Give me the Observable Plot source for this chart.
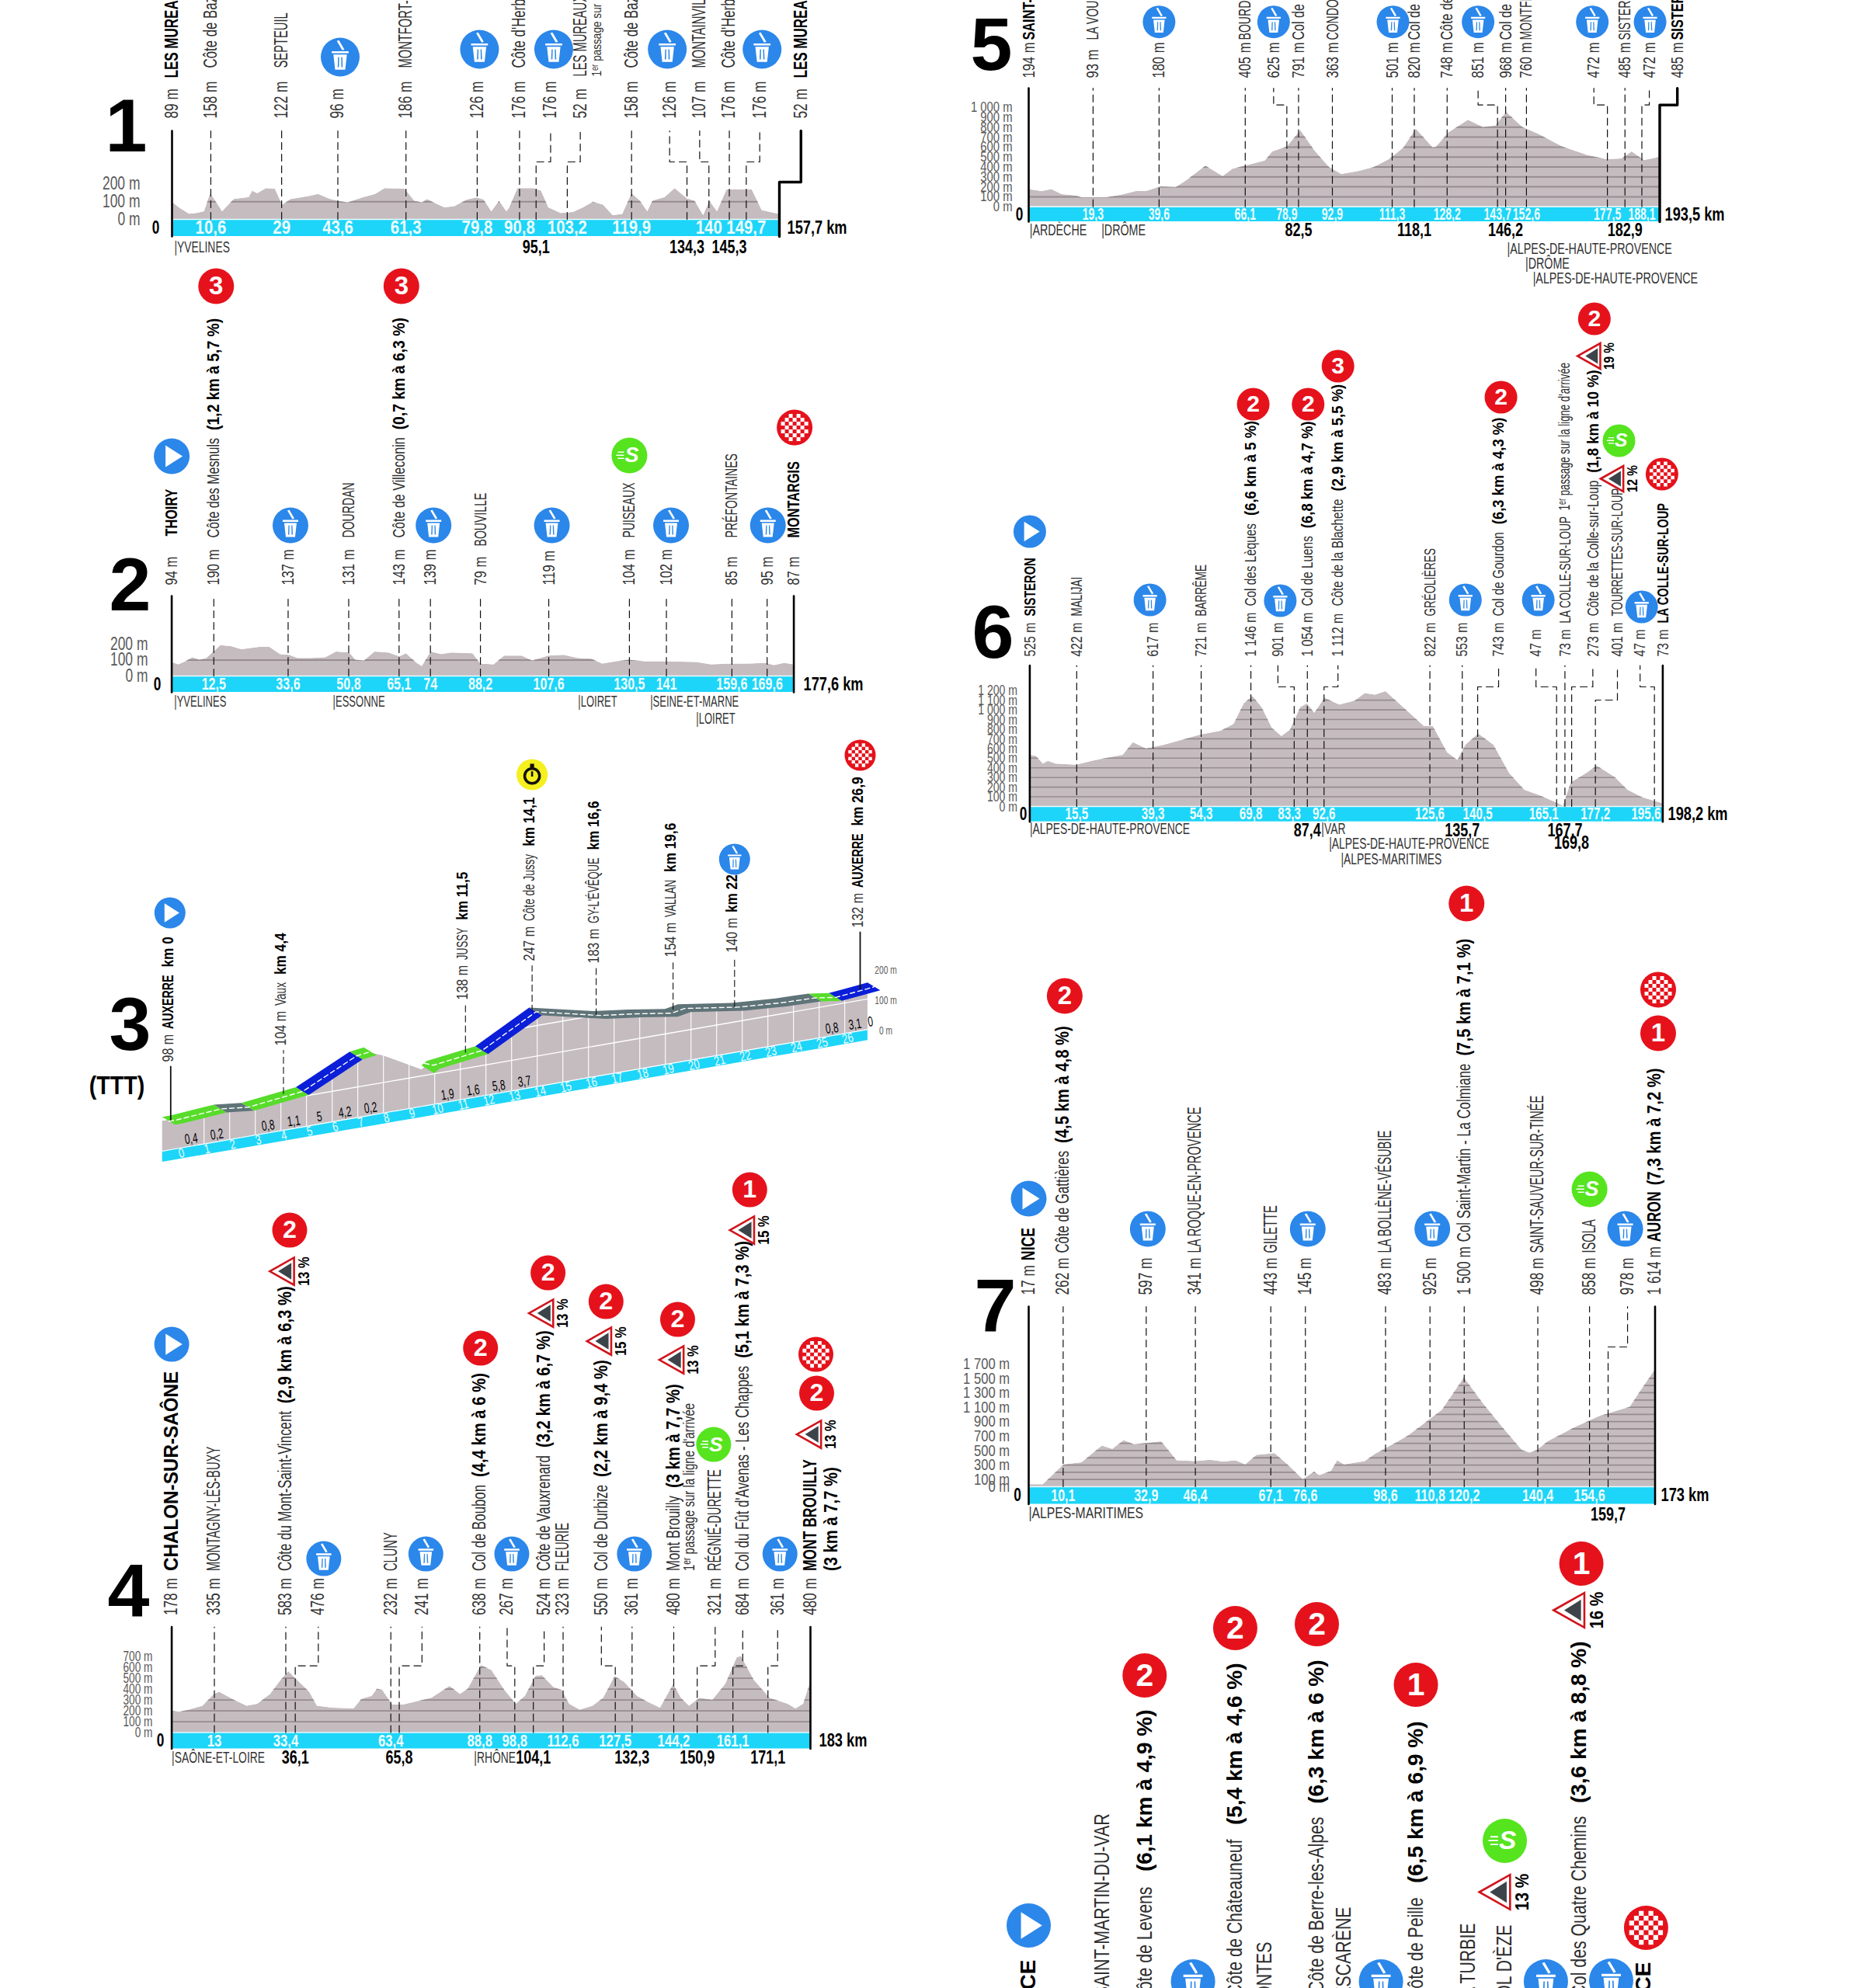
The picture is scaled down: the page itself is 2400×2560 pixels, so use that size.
<!DOCTYPE html>
<html lang="fr">
<head>
<meta charset="utf-8">
<title>Profils des étapes</title>
<script src="https://cdn.jsdelivr.net/npm/d3@7"></script>
<script src="https://cdn.jsdelivr.net/npm/@observablehq/plot@0.6"></script>
<style>
html,body{margin:0;padding:0;background:#fff}
#page{position:relative;width:2400px;height:2560px;overflow:hidden;background:#fff}
#page svg{position:absolute;background:transparent}
</style>
</head>
<body>
<div id="page"></div>
<script>
/* ---------- STAGE 1 ---------- */
const s1End = 157.7, s1EndLabel = "157,7 km";
const s1Profile = [[0,98],[1.9,66],[4.5,30],[6.4,34],[8.4,44],[10,147],[11.6,95],[13.1,44],[16.1,113],[20,125],[20.9,161],[22.2,147],[24.5,175],[26.8,172],[28.7,81],[30.9,113],[36,132],[38,142],[41.2,113],[43.1,103],[45.7,95],[49.5,122],[52.8,142],[55.3,175],[60.5,172],[63,103],[65,95],[66.3,113],[68.2,92],[70.8,66],[73.4,73],[76.6,110],[79.2,122],[81,110],[83,44],[85,103],[86.9,44],[87.5,60],[89.8,175],[94,175],[95.9,161],[97.8,66],[101,34],[104.2,40],[106.8,66],[109.4,98],[112,81],[114.5,22],[117,29],[119.4,147],[121.6,103],[123.5,44],[124.8,103],[128,125],[130.6,175],[133.8,117],[135.8,103],[138,22],[139.6,103],[141.6,44],[144.1,169],[150.6,169],[153.2,51],[157.7,29]];
const s1Ticks = [0,100,200], s1Grid = [100];
const s1Rows = [[0,null,"89 m","LES MUREAUX",null,182],[10.6,null,"158 m","Côte de Bazemont"],[29,null,"122 m","SEPTEUIL"],[43.6,null,"96 m"],[61.3,null,"186 m","MONTFORT-L'AMAURY"],[79.8,null,"126 m"],[90.8,null,"176 m","Côte d'Herbeville"],[95.1,98.3,"176 m"],[103.2,106,"52 m","LES MUREAUX",null,184],[119.9,null,"158 m","Côte de Bazemont"],[134.3,129.2,"126 m"],[140,137,"107 m","MONTAINVILLE"],[145.3,null,"176 m","Côte d'Herbeville"],[149.7,152.6,"176 m"],[157.7,163.3,"52 m","LES MUREAUX",null,182]];
const s1Notes = [[8,"1ᵉʳ passage sur la ligne d'arrivée","under",false]];
const s1Icons = [["trash",3,209,3],["trash",5,219,3],["trash",7,219,4],["trash",10,219,-3],["trash",13,219,3]];
const s1Marks = [10.6,29,43.6,61.3,79.8,90.8,103.2,119.9,140,149.7];
const s1Below = [95.1,134.3,145.3];
const s1Dept = [["|YVELINES",0.6,0]];

/* ---------- STAGE 2 ---------- */
const s2End = 177.6, s2EndLabel = "177,6 km";
const s2Profile = [[0,85],[2,70],[4,90],[6,115],[8,100],[10,110],[12.5,160],[14,190],[17,185],[20,165],[25,180],[28,180],[31,135],[33.6,130],[36,110],[40,110],[44,115],[47,150],[50.8,145],[52.5,100],[55,95],[58,150],[62,145],[65.1,120],[67,140],[70,80],[71.5,60],[74,150],[77,135],[80,145],[86,140],[88.2,75],[92,70],[95,125],[100,125],[103,95],[107.6,125],[112,130],[116,110],[120,105],[123,75],[127,90],[130.5,100],[135,90],[141,90],[150,85],[154,70],[159.6,75],[165,75],[169.6,80],[172,65],[175,80],[177.6,70]];
const s2Ticks = [0,100,200], s2Grid = [100];
const s2Rows = [[0,null,"94 m","THOIRY",null,180],[12.5,null,"190 m","Côte des Mesnuls","(1,2 km à 5,7 %)"],[33.6,null,"137 m"],[50.8,null,"131 m","DOURDAN"],[65.1,null,"143 m","Côte de Villeconin","(0,7 km à 6,3 %)"],[74,null,"139 m"],[88.2,null,"79 m","BOUVILLE",null,167],[107.6,null,"119 m"],[130.5,null,"104 m","PUISEAUX"],[141,null,"102 m"],[159.6,null,"85 m","PRÉFONTAINES"],[169.6,null,"95 m"],[177.6,null,"87 m","MONTARGIS"]];
const s2Notes = [];
const s2Icons = [["start",0,283,0],["red",1,502,3,"3"],["red",4,502,3,"3"],["trash",2,194,3],["trash",5,194,4],["trash",7,194,4],["sprint",8,284,0],["trash",9,194,6],["trash",11,194,1],["checker",12,320,1]];
const s2Marks = [12.5,33.6,50.8,65.1,74,88.2,107.6,130.5,141,159.6,169.6];
const s2Below = [];
const s2Dept = [["|YVELINES",0.7,0],["|ESSONNE",46,0],["|LOIRET",116,0],["|SEINE-ET-MARNE",136.6,0],["|LOIRET",149.7,1]];

/* ---------- STAGE 3 (TTT) ---------- */
const s3Profile = [[-0.32,98],[0,98],[1.7,109],[2.77,99],[4.9,120],[7,206],[7.55,212],[8.3,188],[9.8,120],[10,132],[11.9,153],[14,249],[16.5,201],[17.9,186],[19.3,168],[19.8,176],[21.9,150],[23.6,140],[24.9,137],[25.7,127],[26.9,137],[27.2,140]];
const s3Road = [[-0.32,1.7,"green"],[1.7,2.77,"slate"],[2.77,4.9,"green"],[4.9,7,"blue"],[7,7.55,"green"],[9.8,11.9,"green"],[11.9,14,"blue"],[14,24.9,"slate"],[24.9,25.7,"green"],[25.7,27.2,"blue"]];
const s3KmTicks = [0,1,2,3,4,5,6,7,8,9,10,11,12,13,14,15,16,17,18,19,20,21,22,23,24,25,26];
const s3Gaps = [[0.8,"0,4"],[1.8,"0,2"],[3.8,"0,8"],[4.8,"1,1"],[5.8,"5"],[6.8,"4,2"],[7.8,"0,2"],[10.8,"1,9"],[11.8,"1,6"],[12.8,"5,8"],[13.8,"3,7"],[25.8,"0,8"],[26.7,"3,1"],[27.3,"0"]];
const s3Ticks = [0,100,200];
const s3Rows = [[0,"98 m","AUXERRE","km 0",107,true],[4.4,"104 m","Vaux","km 4,4",128,false],[11.5,"138 m","JUSSY","km 11,5",187,false],[14.1,"247 m","Côte de Jussy","km 14,1",237,false],[16.6,"183 m","GY-L'ÉVÊQUE","km 16,6",234,false],[19.6,"154 m","VALLAN","km 19,6",242,false],[22,"140 m",null,"km 22",248,false],[26.9,"132 m","AUXERRE","km 26,9",280,true]];
const s3Icons = [["start",0,305,-1],["chrono",3,483,0],["trash",6,374,0],["checker",7,508,0]];

/* ---------- STAGE 4 ---------- */
const s4End = 183, s4EndLabel = "183 km";
const s4Profile = [[0,197],[2.2,189],[5,207],[8.9,244],[12.2,353],[13.7,372],[17.9,299],[21.6,244],[24.6,262],[28.3,353],[31.3,481],[33.5,561],[35.8,488],[39.5,372],[41.7,244],[46.2,226],[52.2,219],[54.4,306],[57.4,335],[58.9,401],[60.4,390],[63.3,255],[66.3,255],[74.5,317],[79.7,426],[82.7,353],[84.9,401],[88.7,619],[91.7,572],[95.4,390],[98.7,262],[101.3,335],[104.3,517],[106.1,525],[109.5,415],[111.8,390],[114,262],[117,207],[120.7,244],[123.7,317],[127,517],[129.7,463],[133.4,335],[136.4,281],[140,226],[143.8,445],[146,317],[148.3,244],[151.3,317],[155,299],[158.7,445],[162,690],[163.2,700],[166.9,481],[171.4,317],[176.6,262],[178.8,219],[181,262],[183,463]];
const s4Ticks = [0,100,200,300,400,500,600,700], s4Grid = [100,200,300,400,500,600];
const s4Rows = [[0,null,"178 m","CHALON-SUR-SAÔNE"],[13,null,"335 m","MONTAGNY-LÈS-BUXY"],[33.4,null,"583 m","Côte du Mont-Saint-Vincent","(2,9 km à 6,3 %)"],[36.1,42,"476 m"],[63.4,null,"232 m","CLUNY"],[65.8,71.7,"241 m"],[88.8,null,"638 m","Col de Boubon","(4,4 km à 6 %)"],[98.8,96.1,"267 m"],[104.1,106.7,"524 m","Côte de Vauxrenard","(3,2 km à 6,7 %)"],[112.6,null,"323 m","FLEURIE"],[127.5,123.1,"550 m","Col de Durbize","(2,2 km à 9,4 %)"],[132.3,null,"361 m"],[144.2,null,"480 m","Mont Brouilly","(3 km à 7,7 %)"],[150.9,155.7,"321 m","RÉGNIÉ-DURETTE"],[161.1,163.6,"684 m","Col du Fût d'Avenas - Les Chappes","(5,1 km à 7,3 %)"],[171.1,173.6,"361 m"],[183,null,"480 m","MONT BROUILLY"]];
const s4Notes = [[12,"1ᵉʳ passage sur la ligne d'arrivée","under",false],[16,"(3 km à 7,7 %)","under",true]];
const s4Icons = [["start",0,500,0],["steep",2,594,-5,"13 %"],["red",2,647,5,"2"],["trash",3,224,7],["trash",5,230,5],["red",6,495,1,"2"],["trash",7,230,6],["steep",8,540,-4,"13 %"],["red",8,592,5,"2"],["steep",10,504,-3,"15 %"],["red",10,555,6,"2"],["trash",11,230,3],["steep",12,480,-3,"13 %"],["red",12,532,5,"2"],["sprint",13,371,-2],["steep",14,647,-1,"15 %"],["red",14,699,9,"1"],["trash",15,230,3],["steep",16,384,-2,"13 %"],["red",16,437,8,"2"],["checker",16,487,7]];
const s4Marks = [13,33.4,63.4,88.8,98.8,112.6,127.5,144.2,161.1];
const s4Below = [36.1,65.8,104.1,132.3,150.9,171.1];
const s4Dept = [["|SAÔNE-ET-LOIRE",0,0],["|RHÔNE",86.6,0]];

/* ---------- STAGE 5 ---------- */
const s5End = 193.5, s5EndLabel = "193,5 km";
const s5Profile = [[0,174],[4.1,154],[7.1,174],[10.2,122],[14.7,109],[16.3,91],[23.9,91],[28.4,117],[33,154],[36,154],[40.6,200],[45.2,195],[48.2,258],[54.3,409],[59.6,305],[62.6,378],[66.4,409],[72.5,461],[74.8,552],[79.3,604],[83.4,768],[87.7,565],[92.2,396],[96,326],[101.4,357],[105.9,396],[110.5,474],[115,591],[118.8,781],[121.9,669],[123.9,596],[125,600],[128.7,742],[134.8,870],[139.4,799],[143.2,812],[146.5,950],[151.5,799],[156.1,734],[163.7,604],[171.3,518],[177.4,474],[181.9,482],[185,552],[188.8,466],[193.5,495]];
const s5Ticks = [0,100,200,300,400,500,600,700,800,900,1000], s5Grid = [100,200,300,400,500,600,700,800,900];
const s5Rows = [[0,null,"194 m","SAINT-SAUVEUR-DE-MONTAGUT"],[19.3,null,"93 m","LA VOULTE-SUR-RHÔNE"],[39.6,null,"180 m"],[66.1,null,"405 m","BOURDEAUX"],[78.9,75.1,"625 m"],[82.5,null,"791 m","Col de la Motte"],[92.9,null,"363 m","CONDORCET"],[111.3,null,"501 m"],[118.1,null,"820 m","Col de Font-Longue"],[128.2,null,"748 m","Côte de Rosans"],[143.7,137.8,"851 m"],[146.2,null,"968 m","Col de la Saulce"],[152.6,null,"760 m","MONTFROC"],[177.5,173.3,"472 m"],[182.9,null,"485 m","SISTERON"],[188.1,190.3,"472 m"],[193.5,198.9,"485 m","SISTERON"]];
const s5Notes = [];
const s5Icons = [["trash",2,238,0],["trash",4,238,0],["trash",7,238,1],["trash",10,238,0],["trash",13,238,-2],["trash",15,238,1]];
const s5Marks = [19.3,39.6,66.1,78.9,92.9,111.3,128.2,143.7,152.6,177.5,188.1];
const s5Below = [82.5,118.1,146.2,182.9];
const s5Dept = [["|ARDÈCHE",0.3,0],["|DRÔME",22.3,0],["|ALPES-DE-HAUTE-PROVENCE",146.7,1],["|DRÔME",152.3,2],["|ALPES-DE-HAUTE-PROVENCE",154.6,3]];

/* ---------- STAGE 6 ---------- */
const s6End = 198.2, s6EndLabel = "198,2 km";
const s6Profile = [[0,530],[2.1,518],[4.2,440],[5.8,468],[8.2,440],[14.7,429],[19.5,468],[22.7,491],[29.2,530],[32.4,662],[36.5,596],[42.1,635],[48.5,694],[53.4,740],[59.8,779],[63.9,850],[67.1,1064],[69.8,1142],[72.7,1025],[75.9,811],[78.9,725],[81.6,791],[84.8,1025],[86.9,1064],[89.2,966],[92.4,1122],[97,1052],[101.8,1091],[105,1169],[108.2,1153],[111.5,1189],[117,1025],[123.5,830],[126.3,830],[130.8,557],[134,479],[136.5,635],[140.5,752],[145.3,635],[150.2,343],[155,168],[160,109],[165.5,31],[167,5],[169.5,245],[174.4,343],[177.6,421],[183.2,304],[187.3,168],[192,90],[198.2,31]];
const s6Ticks = [0,100,200,300,400,500,600,700,800,900,1000,1100,1200], s6Grid = [100,200,300,400,500,600,700,800,900,1000,1100];
const s6Rows = [[0,null,"525 m","SISTERON"],[15.5,null,"422 m","MALIJAI"],[39.3,null,"617 m"],[54.3,null,"721 m","BARRÊME"],[69.8,null,"1 146 m","Col des Lèques","(6,6 km à 5 %)",258],[83.3,77.7,"901 m"],[87.4,null,"1 054 m","Col de Luens","(6,8 km à 4,7 %)",258],[92.6,96.5,"1 112 m","Côte de la Blachette","(2,9 km à 5,5 %)",258],[125.6,null,"822 m","GRÉOLIÈRES"],[135.7,null,"553 m"],[140.5,146.8,"743 m","Col de Gourdon","(6,3 km à 4,3 %)"],[165.1,158.5,"47 m"],[167.7,null,"73 m","LA COLLE-SUR-LOUP",null,236],[169.8,176.3,"273 m","Côte de la Colle-sur-Loup","(1,8 km à 10 %)"],[177.2,184,"401 m","TOURRETTES-SUR-LOUP"],[195.6,191.1,"47 m"],[198.2,null,"73 m","LA COLLE-SUR-LOUP",null,236]];
const s6Notes = [[12,"1ᵉʳ passage sur la ligne d'arrivée","after",false]];
const s6Icons = [["start",0,354,0],["trash",2,266,-4],["red",4,518,3,"2"],["trash",5,265,3],["red",6,518,1,"2"],["red",7,567,0,"3"],["trash",9,266,4],["red",10,527,3,"2"],["trash",11,266,3],["steep",13,580,-5,"19 %"],["red",13,628,2,"2"],["steep",14,422,-7,"12 %"],["sprint",14,471,2],["trash",15,257,2],["checker",16,428,-1]];
const s6Marks = [15.5,39.3,54.3,69.8,83.3,92.6,125.6,140.5,165.1,177.2,195.6];
const s6Below = [87.4,135.7,167.7];
const s6BelowLow = [169.8];
const s6Dept = [["|ALPES-DE-HAUTE-PROVENCE",0,0],["|VAR",91.3,0],["|ALPES-DE-HAUTE-PROVENCE",93.7,1],["|ALPES-MARITIMES",97.4,2]];

/* ---------- STAGE 7 ---------- */
const s7End = 173, s7EndLabel = "173 km";
const s7Profile = [[0,29],[4,29],[9.7,303],[14.7,332],[20.3,565],[23.2,518],[26.3,640],[29.2,582],[36.7,623],[41,361],[46,349],[50.2,367],[53.8,343],[57.3,361],[59.9,303],[63,436],[68,460],[71.6,303],[75.8,99],[78.9,204],[80.4,157],[83.6,215],[85.3,361],[87.2,303],[92.9,349],[95.7,448],[102.1,623],[105,710],[114.2,1059],[120.3,1507],[125.6,1146],[131.3,797],[136.3,506],[138.4,466],[140.5,506],[143.4,623],[151.2,826],[157.6,972],[166.1,1100],[169,1321],[173,1614]];
const s7Ticks = [0,100,300,500,700,900,1100,1300,1500,1700], s7Grid = [100,200,300,400,500,600,700,800,900,1000,1100,1200,1300,1400,1500];
const s7Rows = [[0,null,"17 m","NICE"],[10.1,null,"262 m","Côte de Gattières","(4,5 km à 4,8 %)"],[32.9,null,"597 m"],[46.4,null,"341 m","LA ROQUE-EN-PROVENCE"],[67.1,null,"443 m","GILETTE"],[76.6,null,"145 m"],[98.6,null,"483 m","LA BOLLÈNE-VÉSUBIE"],[110.8,null,"925 m"],[120.2,null,"1 500 m","Col Saint-Martin - La Colmiane","(7,5 km à 7,1 %)"],[140.4,null,"498 m","SAINT-SAUVEUR-SUR-TINÉE"],[154.6,null,"858 m","ISOLA"],[159.7,165.4,"978 m"],[173,null,"1 614 m","AURON","(7,3 km à 7,2 %)"]];
const s7Notes = [];
const s7Icons = [["start",0,371,0],["red",1,632,2,"2"],["trash",2,332,2],["trash",5,332,3],["trash",7,332,3],["red",8,751,3,"1"],["sprint",10,383,0],["trash",11,332,-3],["red",12,584,4,"1"],["checker",12,640,4]];
const s7Marks = [10.1,32.9,46.4,67.1,76.6,98.6,110.8,120.2,140.4,154.6];
const s7Below = [159.7];
const s7Dept = [["|ALPES-MARITIMES",0,0]];

/* ---------- STAGE 8 (cropped by the page) ---------- */
const s8End = 109.3;
const s8Labels = [[0,"NICE",37,true],[13,"SAINT-MARTIN-DU-VAR",225],[20.6,"Côte de Levens",131],[20.6,"(6,1 km à 4,9 %)",359,true],[36.7,"Côte de Châteauneuf",192],[36.7,"(5,4 km à 4,6 %)",419,true],[41.9,"CONTES",60],[51.2,"Côte de Berre-les-Alpes",221],[51.2,"(6,3 km à 6 %)",423,true],[56,"L'ESCARÈNE",105],[68.8,"Côte de Peille",117],[68.8,"(6,5 km à 6,9 %)",344,true],[78,"LA TURBIE",84],[84.6,"COL D'ÈZE",82],[97.8,"Col des Quatre Chemins",222],[97.8,"(3,6 km à 8,8 %)",447,true],[109.3,"NICE",34,true]];
const s8Icons = [["start",0,81,0],["red",20.6,403,0,"2"],["trash",29.2,9,0],["red",36.7,464,0,"2"],["red",51.2,469,0,"2"],["trash",62.6,9,0],["red",68.8,391,0,"1"],["steep",82.8,124,0,"13 %"],["sprint",84.6,190,0],["trash",91.9,9,0],["steep",96,487,0,"16 %"],["red",98.2,547,0,"1"],["trash",103.5,10,0],["checker",109.7,78,0]];

/* ---------- LAYOUT AND STYLE (separate from the values) ---------- */
const L1 = {left:100,top:0,w:1050,h:340,x0:218.4,x1:1000,axisL:221,axisR:1003,base:282,bandBottom:304,ppm:.227,guideLift:114,bendLift:74,altLift:130,nameLift:195,fs:23,altSq:.75,r:25,axisX:180,zeroX:200,endX:1013,belowY:318,deptY:[318],deptSq:.66,digit:[162,163],digitText:"1",finishBend:48,axisFs:23,axisSq:.76,gridW:2,bandFs:24,bandSq:.85,boldSq:.74,noteDx:21.7,noteFs:17,noteSq:.8};
const L2 = {left:100,top:340,w:1050,h:610,x0:218.1,x1:1023.5,axisL:220.6,axisR:1021.6,base:870,bandBottom:891,ppm:.206,guideLift:103,altLift:117,nameLift:178,fs:22,altSq:.75,r:23,axisX:190,zeroX:202,endX:1034,belowY:903,deptY:[903,925],deptSq:.62,digit:[167,754],digitText:"2",axisFs:23,axisSq:.76,gridW:2,bandFs:22,bandSq:.73,boldSq:.74};
const L4 = {left:100,top:1500,w:1050,h:800,x0:216.9,x1:1041.9,axisL:220.6,axisR:1043,base:2230.6,bandBottom:2251.5,ppm:.14,guideLift:136,bendLift:86,altLift:151,nameLift:208,fs:23,altSq:.75,r:22.5,axisX:196,zeroX:206,endX:1054,belowY:2263,deptY:[2263],deptSq:.66,digit:[165,2050],digitText:"4",axisFs:19,axisSq:.72,gridW:1.6,bandFs:22,bandSq:.76,boldSq:.76,firstFs:25,firstSq:.97,noteDx:20,noteFs:20,noteSq:.75,noteBoldDx:27,noteBoldSq:.88};
const L5 = {left:1200,top:0,w:1100,h:380,x0:1326.1,x1:2136.1,axisL:1324,axisR:2136.5,base:265.7,bandBottom:285,ppm:.128,guideLift:152.6,bendLift:131,altLift:165.7,nameLift:214.7,fs:22,altSq:.75,r:21,axisX:1303,zeroX:1312,endX:2143,belowY:296,deptY:[296,320,339,358],deptSq:.68,digit:[1276,58],digitText:"5",finishBend:131,axisFs:19,axisSq:.78,gridW:2,bandFs:22,bandSq:.64,boldSq:.74};
const L6 = {left:1200,top:380,w:1100,h:750,x0:1321.8,x1:2140.4,axisL:1325.4,axisR:2140.4,base:1038,bandBottom:1057.7,ppm:.1244,guideLift:181.5,bendLift:154,altLift:193,nameLift:245,fs:21,altSq:.75,r:21,axisX:1309.5,zeroX:1317,endX:2147,belowY:1069,belowLowY:1085,deptY:[1067,1086,1106],deptSq:.66,digit:[1278,815],digitText:"6",axisFs:19,axisSq:.74,gridW:1.6,bandFs:22,bandSq:.69,boldSq:.7,noteFs:20,noteSq:.66,bendOverride:{14:137},markShift:{83.3:-1.5,165.1:-4,195.6:-2.6}};
const L7 = {left:1200,top:1130,w:1100,h:840,x0:1321,x1:2132.4,axisL:1324,axisR:2130.5,base:1914,bandBottom:1936.5,ppm:.0931,guideLift:232,bendLift:180,altLift:247,autoName:6,fs:23,altSq:.75,r:23,axisX:1299.6,zeroX:1309.5,endX:2138,belowY:1950,deptY:[1948],deptSq:.75,digit:[1281,1683],digitText:"7",axisFs:21,axisSq:.79,gridW:1.8,bandFs:22,bandSq:.73,boldSq:.77};
const L3 = {left:100,top:950,w:1100,h:550,x0:219.3,pxKm:33,base:1480,ppm:.393,shear:14.48,r:20,fs:20,axisX:1140,digit:[167,1320],digitText:"3",subtitle:"(TTT)",subtitleAt:[150,1398],bandDepth:36};
const L8 = {left:1200,top:1970,w:1100,h:590,x0:1324,x1:2116,r:28.5,fs:28};
const C = {band:"#1dd5f8",fill:"#c5bcc0",grid:"#968c91",name:"#2e2e2e",alt:"#333",axis:"#5a5a5a",blue:"#2b87ea",red:"#e5121c",green:"#56e41f",yellow:"#f5f01e",green2:"#58dc2a",road2:"#0b1ed8",slate:"#5f7478",dark:"#3c4449"};
const FONT = '"Liberation Sans", Arial, sans-serif';

/* ---------- HELPERS ---------- */
const ctx = document.createElement("canvas").getContext("2d");
function measure(t, fs, bold, sq) {
  ctx.font = `${bold ? "bold " : ""}${fs}px "Liberation Sans"`;
  return ctx.measureText(t).width * sq;
}
const cls = f => "sq-" + Math.round(f * 100);
const fmt = k => String(k).replace(".", ",");
const fmtTick = v => (v >= 1000 ? String(v).replace(/(\d)(\d{3})$/, "$1 $2") : String(v)) + " m";

function rotText(data, {fs, bold = false, fill = "#000", sq = 1, anchor = "start"}) {
  return Plot.text(data, {x: "x", y: "y", text: "t", rotate: -90, textAnchor: anchor, lineAnchor: "middle",
    fontSize: fs, fontWeight: bold ? "bold" : "normal", fill, fontFamily: FONT, className: cls(sq)});
}
function flatText(data, {fs, bold = false, fill = "#000", sq = 1, anchor = "middle", rotate = 0}) {
  return Plot.text(data, {x: "x", y: "y", text: "t", textAnchor: anchor, lineAnchor: "middle", rotate,
    fontSize: fs, fontWeight: bold ? "bold" : "normal", fill, fontFamily: FONT, className: cls(sq)});
}
const isCaps = t => t === t.toUpperCase();

/* custom dot symbols (scale follows the dot radius) */
const unit = size => Math.sqrt(size / Math.PI) / 23;
const poly = (c, k, pts) => { pts.forEach(([x, y], i) => i ? c.lineTo(x * k, y * k) : c.moveTo(x * k, y * k)); c.closePath(); };
const trashSym = {draw(c, s) { const k = unit(s);
  poly(c, k, [[-8,-3],[8,-3],[6,15],[-6,15]]);
  poly(c, k, [[-2.5,0],[-3,12],[-1.5,12],[-1.2,0]]);
  poly(c, k, [[1.2,0],[1.5,12],[3,12],[2.5,0]]);
  poly(c, k, [[-10,-7],[10,-7],[10,-4.5],[-10,-4.5]]);
  poly(c, k, [[-4,-19],[-1.5,-20],[5,-9],[2.5,-8]]);
}};
const playSym = {draw(c, s) { const k = unit(s); poly(c, k, [[-8,-14],[-8,14],[14,0]]); }};
const checkSym = {draw(c, s) { const k = unit(s), u = 5;
  for (let i = -3; i <= 3; i++) for (let j = -3; j <= 3; j++) {
    if ((i + j) % 2 === 0 && Math.hypot(i, j) < 3.2) poly(c, k, [[i*u-u/2,j*u-u/2],[i*u+u/2,j*u-u/2],[i*u+u/2,j*u+u/2],[i*u-u/2,j*u+u/2]]);
  }
}};
const streakSym = {draw(c, s) { const k = unit(s);
  poly(c, k, [[-15,-5],[-7,-5],[-7,-3.5],[-15,-3.5]]);
  poly(c, k, [[-17,-1],[-7,-1],[-7,.5],[-17,.5]]);
  poly(c, k, [[-15,3],[-7,3],[-7,4.5],[-15,4.5]]);
}};
const triOuter = {draw(c, s) { const k = unit(s); poly(c, k, [[-16,0],[16,-18],[16,18]]); }};
const triInner = {draw(c, s) { const k = unit(s); poly(c, k, [[-5,0],[12.5,-11],[12.5,11]]); }};
const chronoSym = {draw(c, s) { const k = unit(s);
  c.moveTo(13*k, 2*k); c.arc(0, 2*k, 13*k, 0, 2*Math.PI);
  c.moveTo(9*k, 2*k); c.arc(0, 2*k, 9*k, 0, -2*Math.PI, true);
  poly(c, k, [[-3,-16],[3,-16],[3,-10],[-3,-10]]);
  poly(c, k, [[-1.5,-5],[1.5,-5],[1.5,3],[-1.5,3]]);
}};

function iconMarks(list, r) {
  const k = r / 23, only = t => list.filter(d => d.type === t), out = [];
  const dot = (t, fill, symbol) => out.push(Plot.dot(only(t), {x: "x", y: "y", r, fill, stroke: "none", symbol: symbol || "circle"}));
  dot("trash", C.blue); dot("trash", "#fff", trashSym);
  dot("start", C.blue); dot("start", "#fff", playSym);
  dot("red", C.red);
  out.push(Plot.text(only("red"), {x: "x", y: "y", text: "label", fill: "#fff", fontWeight: "bold", fontSize: 33 * k, fontFamily: FONT, lineAnchor: "middle"}));
  dot("checker", C.red); dot("checker", "#fff", checkSym);
  dot("sprint", C.green); dot("sprint", "#fff", streakSym);
  out.push(Plot.text(only("sprint"), {x: d => d.x + d.sx, y: "y", text: () => "S", fill: "#fff", fontWeight: "bold", fontStyle: "italic", fontSize: 27 * k, fontFamily: FONT, lineAnchor: "middle"}));
  dot("chrono", C.yellow); dot("chrono", "#111", chronoSym);
  out.push(Plot.dot(only("steep"), {x: "x", y: "y", r, fill: "#fff", stroke: "#d0141c", strokeWidth: 2.6, symbol: triOuter}));
  out.push(Plot.dot(only("steep"), {x: "x", y: "y", r, fill: C.dark, stroke: "none", symbol: triInner}));
  out.push(Plot.text(only("steep"), {x: d => d.x + d.px, y: "y", text: "label", rotate: -90, fill: "#000", fontWeight: "bold", fontSize: 20 * k, fontFamily: FONT, lineAnchor: "middle", className: cls(.84)}));
  return out;
}
function resolveIcons(list, colX, pxKm, ppm, r) {
  const k = r / 23;
  return list.map(([type, col, lift, dx, label]) => ({type, label, x: colX(col) + dx / pxKm, y: lift / ppm, px: 29 * k / pxKm, sx: 3 * k / pxKm}));
}
function mount(marks, L, x, y) {
  const svg = Plot.plot({width: L.w, height: L.h, margin: 0, style: {background: "transparent", overflow: "hidden"}, x: {...x, axis: null}, y: {...y, axis: null}, marks});
  svg.style.left = L.left + "px"; svg.style.top = L.top + "px";
  document.getElementById("page").appendChild(svg);
}

/* ---------- GENERIC STAGE ---------- */
function drawStage(end, endLabel, profileRaw, ticks, grid, rows, notes, icons, markKm, belowKm, belowLow, dept, L) {
  const pxKm = (L.x1 - L.x0) / end, up = p => p / L.ppm;
  const X = px => (px - L.x0) / pxKm, Y = py => (L.base - py) / L.ppm;
  /* values (axisL..axisR) */
  const read = km => X(L.axisL + (L.axisR - L.axisL) / end * km);
  const kmL = X(L.axisL), kmR = X(L.axisR);
  const profile = profileRaw.map(([km, alt]) => ({km: read(km), alt}));
  const bandLow = Y(L.bandBottom), bandMid = Y((L.base + L.bandBottom) / 2);
  const maskTop = Math.max(...grid) + 100;
  const last = rows.length - 1;
  const colX = i => rows[i][1] != null ? read(rows[i][1]) : i === 0 ? kmL : i === last ? kmR : rows[i][0];
  const nameLift = rows.map(r => {
    if (r[5] != null) return r[5];
    if (L.autoName != null) return L.altLift + measure(r[2], L.fs, false, L.altSq) + L.autoName;
    return L.nameLift;
  });
  const nameSq = i => i === 0 && L.firstSq ? L.firstSq : (i === 0 || i === last) ? L.boldSq : isCaps(rows[i][3]) ? .64 : .73;
  const nameFs = i => i === 0 && L.firstFs ? L.firstFs : L.fs;
  const named = rows.map((r, i) => ({r, i})).filter(d => d.r[3]);
  const nameRow = d => ({x: colX(d.i), y: up(nameLift[d.i]), t: d.r[3]});
  const isBold = d => d.i === 0 || d.i === last;
  const nameEnd = i => nameLift[i] + measure(rows[i][3], nameFs(i), i === 0 || i === last, nameSq(i));

  const guides = rows.slice(1, -1).flatMap((r, j) => {
    const i = j + 1, km = r[0], topKm = colX(i);
    const bend = (L.bendOverride && L.bendOverride[i]) ?? L.bendLift;
    const pts = r[1] == null ? [[km, 0], [km, L.guideLift]] : [[km, 0], [km, bend], [topKm, bend], [topKm, L.guideLift]];
    return pts.map(([x, l]) => ({x, y: up(l), i}));
  });
  const finishTop = rows[last][1] != null ? read(rows[last][1]) : null;
  const finishPath = (finishTop != null ? [[kmR, bandLow], [kmR, up(L.finishBend)], [finishTop, up(L.finishBend)], [finishTop, up(L.guideLift)]] : [[kmR, bandLow], [kmR, up(L.guideLift)]]).map(([x, y]) => ({x, y}));
  const shift = L.markShift || {};

  const marks = [
    Plot.rect([{a: kmL, b: kmR, c: bandLow, d: 0}], {x1: "a", x2: "b", y1: "c", y2: "d", fill: C.band}),
    Plot.areaY(profile, {x: "km", y1: () => 0, y2: "alt", fill: C.fill}),
    Plot.ruleY(grid, {x1: kmL, x2: kmR, stroke: C.grid, strokeWidth: L.gridW}),
    Plot.areaY(profile, {x: "km", y1: "alt", y2: () => maskTop, fill: "#fff"}),
    Plot.ruleY([0], {x1: kmL, x2: kmR, stroke: "#eafcff", strokeWidth: 1.4}),
    Plot.line(guides, {x: "x", y: "y", z: "i", stroke: "#111", strokeWidth: 1.2, strokeDasharray: "9,6"}),
    Plot.line([{x: kmL, y: bandLow}, {x: kmL, y: up(L.guideLift)}], {x: "x", y: "y", stroke: "#000", strokeWidth: 2.6}),
    Plot.line(finishPath, {x: "x", y: "y", stroke: "#000", strokeWidth: finishTop != null ? 3.4 : 2.6}),
    flatText(ticks.map(v => ({x: X(L.axisX), y: v, t: fmtTick(v)})), {fs: L.axisFs, fill: C.axis, sq: L.axisSq, anchor: "end"}),
    flatText([{x: X(L.zeroX), y: bandMid, t: "0"}], {fs: 24, bold: true, sq: .72}),
    flatText([{x: X(L.endX), y: bandMid, t: endLabel}], {fs: 24, bold: true, sq: .76, anchor: "start"}),
    flatText(markKm.map(k => ({x: k + (shift[k] || 0), y: bandMid, t: fmt(k)})), {fs: L.bandFs, bold: true, fill: "#effdff", sq: L.bandSq}),
    flatText(belowKm.map(k => ({x: k, y: Y(L.belowY), t: fmt(k)})), {fs: 24, bold: true, sq: .75}),
    flatText((belowLow || []).map(k => ({x: k, y: Y(L.belowLowY), t: fmt(k)})), {fs: 24, bold: true, sq: .75}),
    flatText(dept.map(([t, k, row]) => ({x: read(k), y: Y(L.deptY[row]), t})), {fs: 21, fill: "#333", sq: L.deptSq, anchor: "start"}),
    flatText([{x: X(L.digit[0]), y: Y(L.digit[1]), t: L.digitText}], {fs: 97, bold: true}),
    rotText(rows.map((r, i) => ({x: colX(i), y: up(L.altLift), t: r[2]})), {fs: L.fs, fill: C.alt, sq: L.altSq}),
    ...named.map(d => rotText([nameRow(d)], {fs: nameFs(d.i), bold: isBold(d), fill: isBold(d) ? "#000" : C.name, sq: nameSq(d.i)})),
    ...rows.map((r, i) => r[4] ? rotText([{x: colX(i), y: up(nameEnd(i) + ((i === 0 || i === last) ? 8 : 10)), t: r[4]}], {fs: L.fs, bold: true, sq: .88}) : null).filter(Boolean),
    ...notes.map(([i, t, mode, bold]) => {
      const inline = mode === "after";
      const dx = bold ? L.noteBoldDx : L.noteDx;
      return rotText([{x: colX(i) + (inline ? 0 : dx / pxKm), y: up(inline ? nameEnd(i) + 7 : nameLift[i]), t}],
        {fs: bold ? L.fs : L.noteFs, bold, fill: bold ? "#000" : C.name, sq: bold ? L.noteBoldSq : L.noteSq});
    }),
    ...iconMarks(resolveIcons(icons, colX, pxKm, L.ppm, L.r), L.r)
  ];
  mount(marks, L,
    {domain: [0, end], range: [L.x0 - L.left, L.x1 - L.left]},
    {domain: [0, 1000], range: [L.base - L.top, L.base - L.top - L.ppm * 1000]});
}

/* ---------- STAGE 3: sheared block ---------- */
function drawStage3(L) {
  const shear = (alt, km) => alt + km * L.shear, up = p => p / L.ppm;
  const X = px => (px - L.x0) / L.pxKm, Y = py => (L.base - py) / L.ppm;
  const prof = s3Profile.map(([km, alt]) => ({km, alt, y: shear(alt, km), b: shear(0, km), l: shear(-L.bandDepth, km)}));
  const topMask = 900;
  const roadColour = {green: C.green2, blue: C.road2, slate: C.slate};
  const h = 5 / L.ppm;
  const road = s3Road.map(([a, b, c]) => Plot.area(prof.filter(d => d.km >= a && d.km <= b), {
    x1: "km", y1: d => d.y + h, x2: d => d.km + .5, y2: d => d.y - h, fill: roadColour[c]}));
  const levelLine = (v, a, b) => Plot.line([a, b].map(k => ({x: k, y: shear(v, k)})), {x: "x", y: "y", stroke: "#fff", strokeWidth: 1.4});
  const colFs = L.fs;
  const texts = [], guides = [];
  s3Rows.forEach(([km, alt, name, kmLabel, top, bold], i) => {
    const altL = top + 6;
    const altLen = measure(alt, colFs, false, .8);
    texts.push(rotText([{x: km - .1, y: up(altL), t: alt}], {fs: colFs, fill: C.alt, sq: .8}));
    let cur = altL + altLen + 7;
    if (name) {
      const sq = bold ? .71 : isCaps(name) ? .64 : .68;
      texts.push(rotText([{x: km - .1, y: up(cur), t: name}], {fs: colFs, bold, fill: bold ? "#000" : C.name, sq}));
      cur += measure(name, colFs, bold, sq) + 10;
    }
    texts.push(rotText([{x: km - .1, y: up(cur), t: kmLabel}], {fs: colFs, bold: true, sq: .86}));
    const base = s3Profile.reduce((m, p) => Math.abs(p[0] - km) < Math.abs(m[0] - km) ? p : m);
    guides.push({i, km, solid: i === 0 || i === s3Rows.length - 1, y1: shear(base[1], km), y2: up(top)});
  });
  const guideLine = g => Plot.line([{x: g.km, y: g.y1}, {x: g.km, y: g.y2}], {x: "x", y: "y", stroke: "#111", strokeWidth: g.solid ? 1.8 : 1.1, strokeDasharray: g.solid ? null : "8,5"});
  const marks = [
    Plot.area(prof, {x1: "km", y1: "l", x2: "km", y2: "b", fill: C.band}),
    Plot.area(prof, {x1: "km", y1: "b", x2: "km", y2: "y", fill: C.fill}),
    Plot.ruleX(s3KmTicks.slice(1).map(k => k + .3), {y1: k => shear(0, k), y2: topMask, stroke: "#fff", strokeWidth: 1.1}),
    levelLine(100, 5.3, 27.2), levelLine(200, 13.3, 16.6),
    Plot.area(prof, {x1: "km", y1: "y", x2: "km", y2: () => topMask, fill: "#fff"}),
    Plot.line(prof, {x: "km", y: "b", stroke: "#fff", strokeWidth: 1.2}),
    ...road,
    Plot.line(prof.filter(d => d.km < 7.6 || d.km > 9.8), {x: d => d.km + .25, y: "y", stroke: "#fff", strokeWidth: 1.4, strokeDasharray: "6,4"}),
    ...guides.map(guideLine),
    flatText(s3KmTicks.map(k => ({x: k + .42, y: shear(-18, k + .42), t: String(k)})), {fs: 17, fill: "#eefdff", sq: .75, rotate: -14}),
    flatText(s3Gaps.map(([k, t]) => ({x: k, y: shear(24, k), t})), {fs: 18, sq: .66, rotate: -8}),
    flatText(s3Ticks.map(v => ({x: X(L.axisX), y: shear(v, 26.9), t: fmtTick(v)})), {fs: 15, fill: C.axis, sq: .68}),
    flatText([{x: X(L.digit[0]), y: Y(L.digit[1]), t: L.digitText}], {fs: 97, bold: true}),
    flatText([{x: X(L.subtitleAt[0]), y: Y(L.subtitleAt[1]), t: L.subtitle}], {fs: 34, bold: true, sq: .84}),
    ...texts,
    ...iconMarks(resolveIcons(s3Icons, i => s3Rows[i][0], L.pxKm, L.ppm, L.r), L.r)
  ];
  const kmMax = (L.w - (L.x0 - L.left)) / L.pxKm;
  mount(marks, L,
    {domain: [0, kmMax], range: [L.x0 - L.left, L.w]},
    {domain: [0, 1000], range: [L.base - L.top, L.base - L.top - L.ppm * 1000]});
}

/* ---------- STAGE 8: label columns only ---------- */
function drawStage8(L) {
  const pxKm = (L.x1 - L.x0) / s8End;
  const rows = s8Labels.map(([x, t, y, bold]) => ({x, t, y, bold: !!bold}));
  const marks = [
    rotText(rows.filter(d => !d.bold), {fs: L.fs, fill: C.name, anchor: "end", sq: .76}),
    rotText(rows.filter(d => d.bold), {fs: L.fs, bold: true, anchor: "end"}),
    ...iconMarks(resolveIcons(s8Icons, k => k, pxKm, 1, L.r), L.r)
  ];
  mount(marks, L,
    {domain: [0, s8End], range: [L.x0 - L.left, L.x1 - L.left]},
    {domain: [0, L.h], range: [L.h, 0]});
}

drawStage(s1End, s1EndLabel, s1Profile, s1Ticks, s1Grid, s1Rows, s1Notes, s1Icons, s1Marks, s1Below, null, s1Dept, L1);
drawStage(s2End, s2EndLabel, s2Profile, s2Ticks, s2Grid, s2Rows, s2Notes, s2Icons, s2Marks, s2Below, null, s2Dept, L2);
drawStage3(L3);
drawStage(s4End, s4EndLabel, s4Profile, s4Ticks, s4Grid, s4Rows, s4Notes, s4Icons, s4Marks, s4Below, null, s4Dept, L4);
drawStage(s5End, s5EndLabel, s5Profile, s5Ticks, s5Grid, s5Rows, s5Notes, s5Icons, s5Marks, s5Below, null, s5Dept, L5);
drawStage(s6End, s6EndLabel, s6Profile, s6Ticks, s6Grid, s6Rows, s6Notes, s6Icons, s6Marks, s6Below, s6BelowLow, s6Dept, L6);
drawStage(s7End, s7EndLabel, s7Profile, s7Ticks, s7Grid, s7Rows, s7Notes, s7Icons, s7Marks, s7Below, null, s7Dept, L7);
drawStage8(L8);

/* horizontally compress the condensed text classes */
document.querySelectorAll('#page g[class^="sq-"]').forEach(g => {
  const f = +g.getAttribute("class").match(/sq-(\d+)/)[1] / 100;
  if (f === 1) return;
  g.querySelectorAll("text").forEach(t => {
    t.setAttribute("textLength", (t.getComputedTextLength() * f).toFixed(1));
    t.setAttribute("lengthAdjust", "spacingAndGlyphs");
  });
});
</script>
</body>
</html>
